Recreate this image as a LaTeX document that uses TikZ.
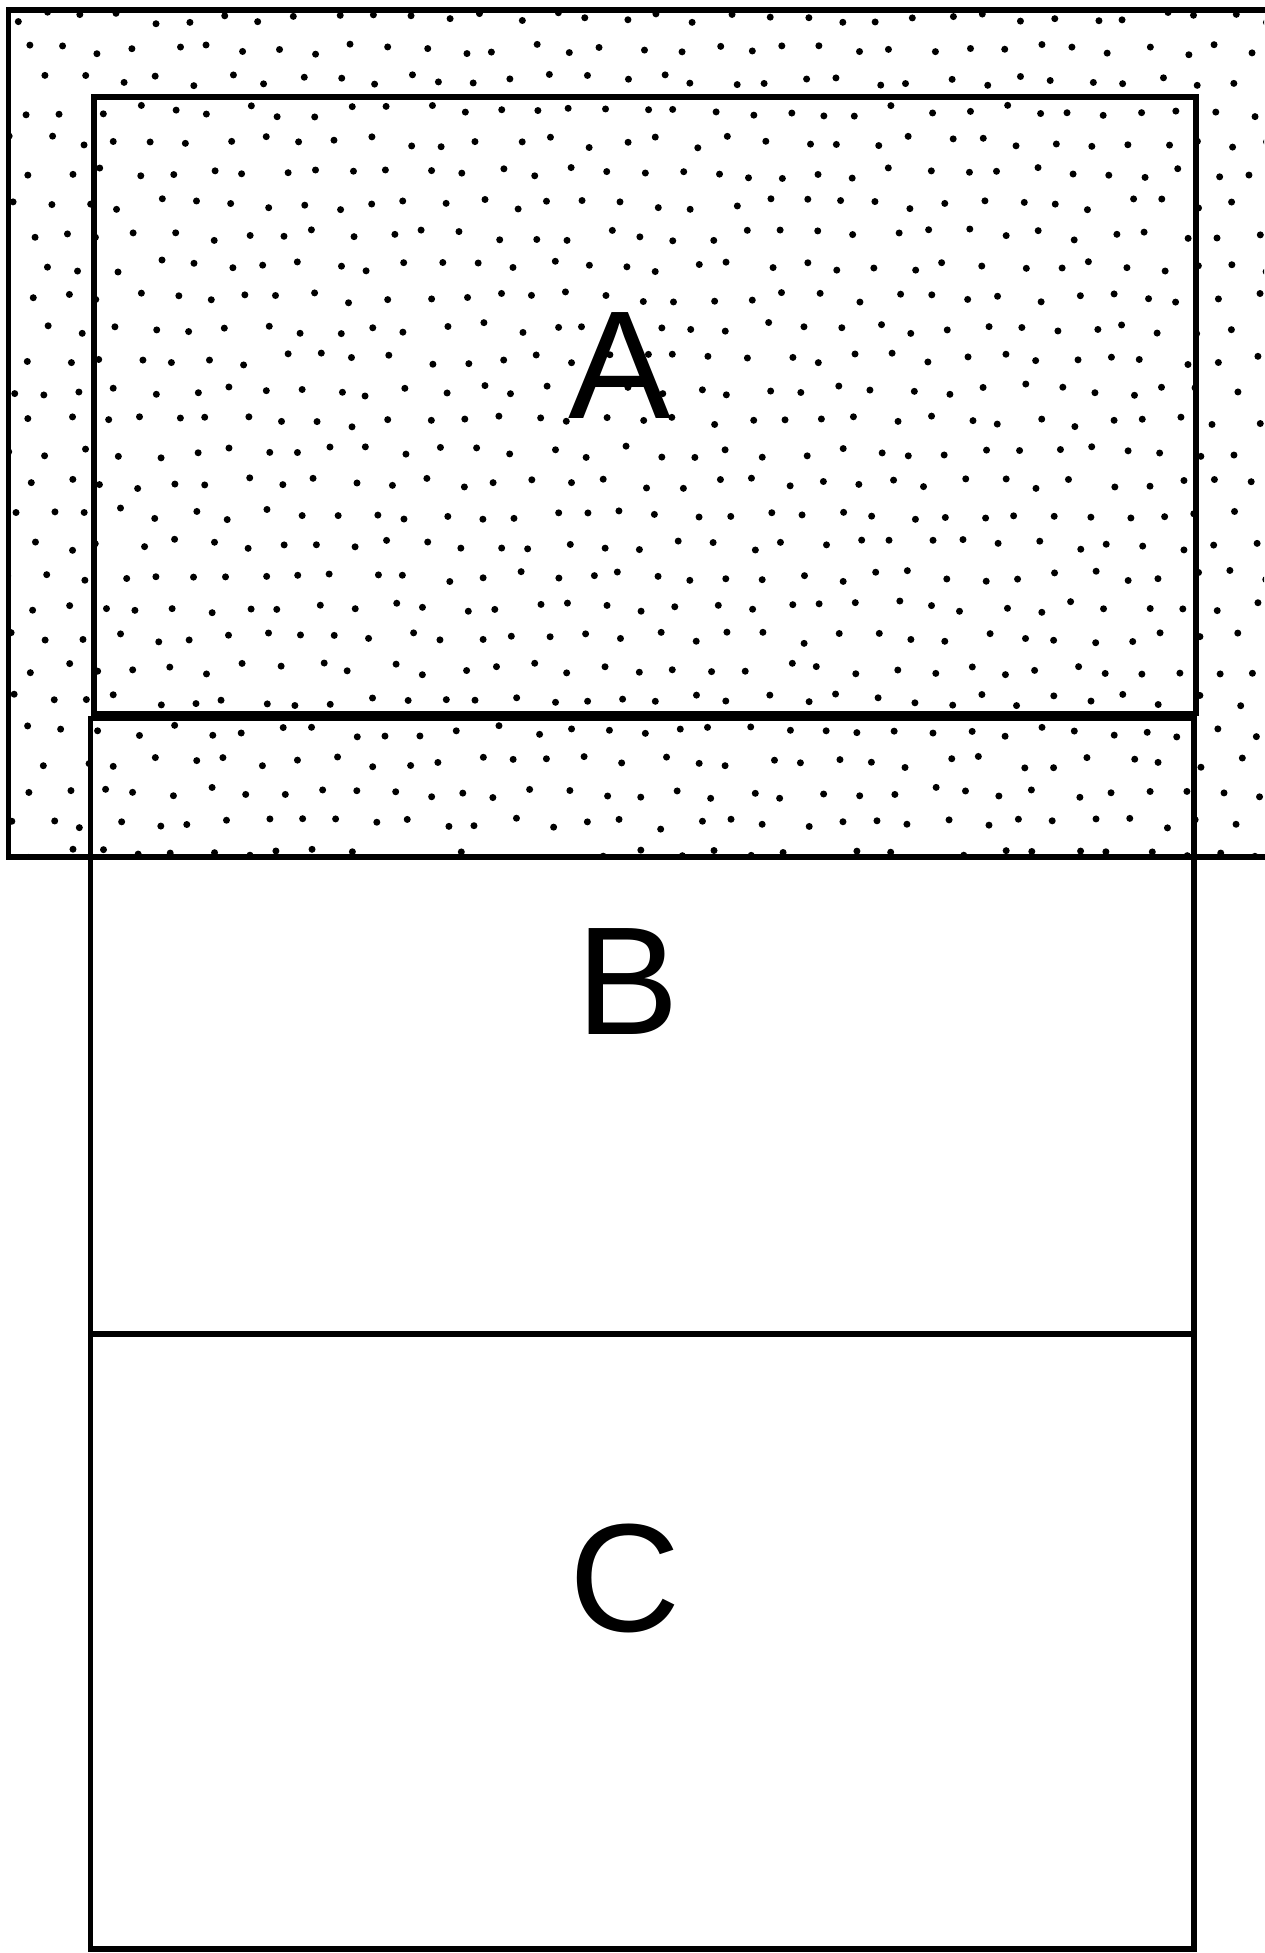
\documentclass[tikz,border=0pt]{standalone}
\usepackage{fontspec}
\setmainfont{Liberation Sans}
\begin{document}
\begin{tikzpicture}[x=1pt,y=-1pt,
  edge/.style={draw=black,line width=5.5pt},
  lbl/.style={anchor=base,inner sep=0pt,font=\fontsize{154}{160}\selectfont},
  dot/.style={fill=black}]
\useasboundingbox[fill=white] (0,0) rectangle (1264,1953);
% rectangles
\draw[edge] (8.5,10) rectangle (1290,857);
\draw[edge] (94,97) rectangle (1196,713.5);
\draw[edge] (90.5,718.5) rectangle (1194,1949);
\draw[edge] (90.5,1334) -- (1194,1334);
% stipple dots
\pgfmathsetseed{4217}
\begin{scope}
\clip (11,13) rectangle (1264,854);
\foreach \r in {0,...,27}{
  \foreach \c in {0,...,35}{
    \pgfmathsetmacro{\xx}{12+\c*36+mod(\r,2)*18+rand*7}
    \pgfmathsetmacro{\yy}{18+\r*31+rand*6}
    \fill[dot] (\xx,\yy) circle[radius=3.5];
  }
}
\end{scope}
% labels
\node[lbl] (A) at (620,418) {A};
\node[lbl] (B) at (628,1034) {B};
\node[lbl] (C) at (625,1631) {C};
\end{tikzpicture}
\end{document}
